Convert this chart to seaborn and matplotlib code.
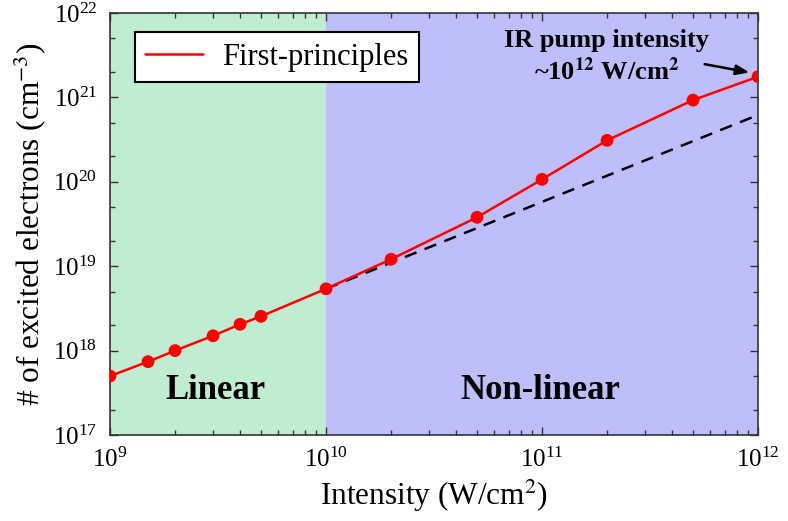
import numpy as np
import pandas as pd
import matplotlib
matplotlib.use("Agg")
import matplotlib.pyplot as plt
import seaborn as sns
from matplotlib.ticker import LogLocator

# Data
intensity = [1e9, 1.5e9, 2e9, 3e9, 4e9, 5e9, 1e10, 2e10, 5e10, 1e11, 2e11, 5e11, 1e12]
electrons = [5.0e17, 7.4e17, 1.0e18, 1.5e18, 2.05e18, 2.55e18, 5.4e18, 1.21e19,
             3.8e19, 1.07e20, 3.1e20, 9.3e20, 1.76e21]
linear_x = [1e10, 1e12]
linear_y = [5.4e18, 6.2e20]
regions = [(1e9, 1e10), (1e10, 1e12)]
region_colors = ["#C0EDD2", "#BEBEFA"]
region_labels = ["Linear", "Non-linear"]

sns.set_style("ticks")
plt.rcParams["font.family"] = ["Liberation Serif", "DejaVu Serif"]
plt.rcParams["mathtext.fontset"] = "stix"
for k in ["text.color", "axes.labelcolor", "xtick.color", "ytick.color"]:
    plt.rcParams[k] = "black"

fig, ax = plt.subplots(figsize=(7.88, 5.21), dpi=100)
fig.subplots_adjust(left=0.1396, right=0.962, bottom=0.165, top=0.975)

for (x0, x1), c in zip(regions, region_colors):
    ax.axvspan(x0, x1, color=c, zorder=0, lw=0)

df = pd.DataFrame({"I": intensity, "n": electrons})
sns.lineplot(data=pd.DataFrame({"I": linear_x, "n": linear_y}), x="I", y="n", ax=ax,
             color="black", lw=1.8, zorder=2)
ax.lines[-1].set_dashes([5, 3.5])
sns.lineplot(data=df, x="I", y="n", ax=ax, color="red", lw=1.8, label="First-principles", zorder=3)
sns.scatterplot(data=df, x="I", y="n", ax=ax, color="red", s=85, edgecolor="none", zorder=4)

ax.set_xscale("log")
ax.set_yscale("log")
ax.set_xlim(1e9, 1e12)
ax.set_ylim(1e17, 1e22)

ax.xaxis.set_major_locator(LogLocator(base=10, numticks=10))
ax.xaxis.set_minor_locator(LogLocator(base=10, subs=np.arange(2, 10), numticks=20))
ax.yaxis.set_major_locator(LogLocator(base=10, numticks=10))
ax.yaxis.set_minor_locator(LogLocator(base=10, subs=[2, 5], numticks=20))

ax.tick_params(which="both", direction="in", top=True, right=True, color="#333333")
ax.tick_params(which="major", length=6, width=1, labelsize=18, pad=9)
ax.tick_params(which="minor", length=3.5, width=1)
for s in ax.spines.values():
    s.set_color("#333333")
    s.set_linewidth(1.2)

ax.set_xlabel("Intensity (W/cm$^2$)", fontsize=22.5, labelpad=4)
ax.set_ylabel("# of excited electrons (cm$^{-3}$)", fontsize=22.5, labelpad=4)

ax.text(10**9.49, 10**17.53, region_labels[0], fontsize=25, fontweight="bold",
        ha="center", va="center", zorder=5)
ax.text(10**10.99, 10**17.53, region_labels[1], fontsize=25, fontweight="bold",
        ha="center", va="center", zorder=5)

ax.text(10**11.3, 10**21.48, "IR pump intensity\n~10$^{\\mathbf{12}}$ W/cm$^{\\mathbf{2}}$",
        fontsize=19, fontweight="bold", ha="center", va="center", linespacing=1.25, zorder=6)
ax.annotate("", xy=(0.94e12, 10**21.29), xytext=(10**11.74, 10**21.40),
            arrowprops=dict(arrowstyle="-|>,head_length=0.8,head_width=0.3", color="black", lw=1.8),
            zorder=6)

leg = ax.legend(loc="upper left", bbox_to_anchor=(0.038, 0.955), fontsize=22, frameon=True,
                fancybox=False, edgecolor="black", framealpha=1, handlelength=1.9,
                borderpad=0.35, handletextpad=0.6, borderaxespad=0)
leg.get_frame().set_linewidth(1.5)

fig.savefig("out.png", dpi=100)
